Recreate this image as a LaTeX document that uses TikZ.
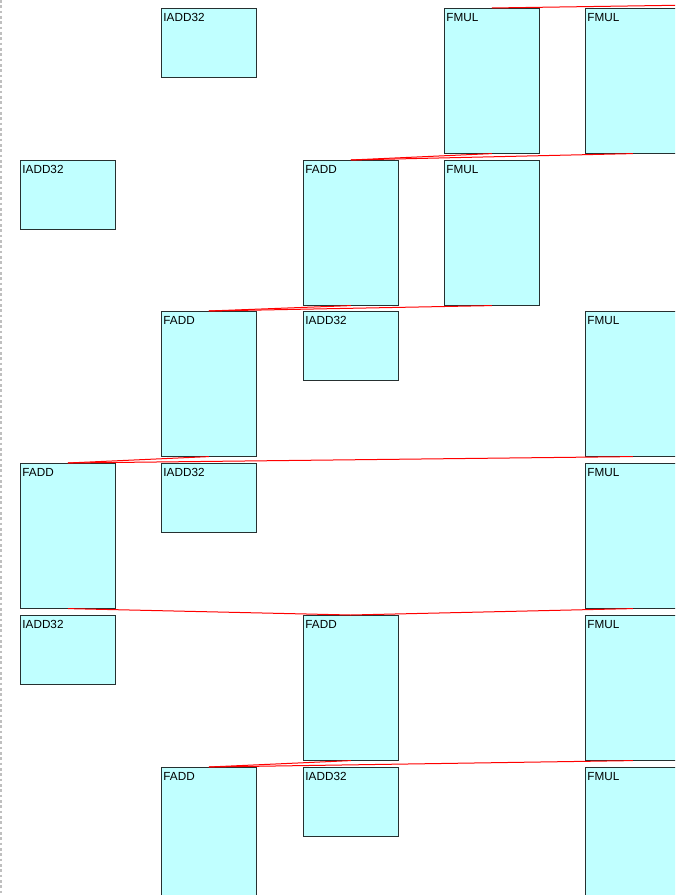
\documentclass[tikz,border=0pt]{standalone}
\usepackage{fontspec}
\setmainfont{Liberation Sans}
\usepackage{tikz}

\definecolor{unitfill}{HTML}{C0FFFF}
\definecolor{unitline}{HTML}{263030}

\begin{document}
\begin{tikzpicture}[
  x=0.75pt, y=-0.75pt,
  font=\fontsize{8.8}{10}\selectfont,
  unit/.style={draw=unitline, fill=unitfill, line width=0.7pt, anchor=north west,
    inner xsep=1.5pt, inner ysep=2pt, text width=68pt, text height=8pt, align=left},
  ishort/.style={unit, text depth=39.5pt},
  ftall/.style={unit, text depth=96.5pt},
  dep/.style={draw=red, line width=0.75pt},
]
  \useasboundingbox (0,0) rectangle (675,895);
  \clip (0,0) rectangle (675,895);
  \draw[gray!50, line width=0.8pt, dash pattern=on 2pt off 2pt] (1,0) -- (1,895);

  % row 0
  \node[ishort] (ia01) at (161,8) {IADD32};
  \node[ftall]  (fm03) at (444,8) {FMUL};
  \node[ftall]  (fm04) at (585,8) {FMUL};
  % row 1
  \node[ishort] (ia10) at (20,160) {IADD32};
  \node[ftall]  (fa12) at (303,160) {FADD};
  \node[ftall]  (fm13) at (444,160) {FMUL};
  % row 2
  \node[ftall]  (fa21) at (161,311) {FADD};
  \node[ishort] (ia22) at (303,311) {IADD32};
  \node[ftall]  (fm24) at (585,311) {FMUL};
  % row 3
  \node[ftall]  (fa30) at (20,463) {FADD};
  \node[ishort] (ia31) at (161,463) {IADD32};
  \node[ftall]  (fm34) at (585,463) {FMUL};
  % row 4
  \node[ishort] (ia40) at (20,615) {IADD32};
  \node[ftall]  (fa42) at (303,615) {FADD};
  \node[ftall]  (fm44) at (585,615) {FMUL};
  % row 5
  \node[ftall]  (fa51) at (161,767) {FADD};
  \node[ishort] (ia52) at (303,767) {IADD32};
  \node[ftall]  (fm54) at (585,767) {FMUL};

  \coordinate (offtop) at (900,2);

  % dependencies
  \draw[dep] (fm03.north) -- (offtop);
  \draw[dep] (fa12.north) -- (fm03.south);
  \draw[dep] (fa12.north) -- (fm04.south);
  \draw[dep] (fa21.north) -- (fa12.south);
  \draw[dep] (fa21.north) -- (fm13.south);
  \draw[dep] (fa30.north) -- (fa21.south);
  \draw[dep] (fa30.north) -- (fm24.south);
  \draw[dep] (fa42.north) -- (fa30.south);
  \draw[dep] (fa42.north) -- (fm34.south);
  \draw[dep] (fa51.north) -- (fa42.south);
  \draw[dep] (fa51.north) -- (fm44.south);
\end{tikzpicture}
\end{document}
